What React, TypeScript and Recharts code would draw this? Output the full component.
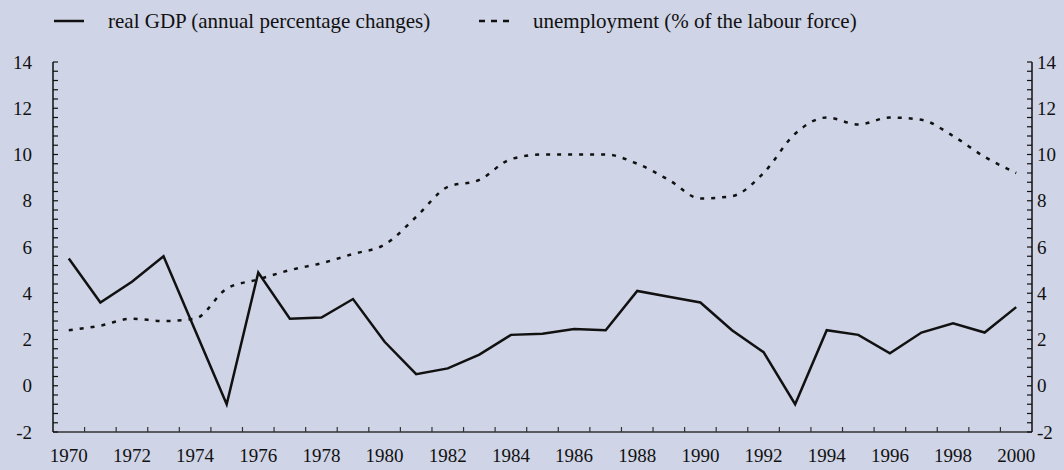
import { Line, LineChart, XAxis, YAxis } from "recharts";

// Real GDP growth vs unemployment, 1970-2000.

const years = [
  1970, 1971, 1972, 1973, 1974, 1975, 1976, 1977, 1978, 1979, 1980, 1981,
  1982, 1983, 1984, 1985, 1986, 1987, 1988, 1989, 1990, 1991, 1992, 1993,
  1994, 1995, 1996, 1997, 1998, 1999, 2000,
];

const gdp = [
  5.5, 3.6, 4.5, 5.6, 2.4, -0.8, 4.9, 2.9, 2.95, 3.75, 1.9, 0.5, 0.75, 1.35,
  2.2, 2.25, 2.45, 2.4, 4.1, 3.85, 3.6, 2.4, 1.45, -0.8, 2.4, 2.2, 1.4, 2.3,
  2.7, 2.3, 3.4,
];

const unemployment = [
  2.4, 2.6, 2.9, 2.8, 2.9, 4.2, 4.6, 5.0, 5.3, 5.7, 6.1, 7.3, 8.6, 8.9, 9.8,
  10.0, 10.0, 10.0, 9.6, 8.9, 8.1, 8.2, 9.2, 10.9, 11.6, 11.3, 11.6, 11.5,
  10.8, 9.9, 9.2,
];

const xLabels = [
  1970, 1972, 1974, 1976, 1978, 1980, 1982, 1984, 1986, 1988, 1990, 1992,
  1994, 1996, 1998, 2000,
];
const yLabels = [-2, 0, 2, 4, 6, 8, 10, 12, 14];

const gdpName = "real GDP (annual percentage changes)";
const unemploymentName = "unemployment (% of the labour force)";

const data = years.map((year, i) => ({
  year,
  gdp: gdp[i],
  unemployment: unemployment[i],
}));

const FONT = "Liberation Serif, Times New Roman, serif";
const BG = "#cfd4e6";
const INK = "#111";

// minor ticks every 0.4 on the value axes, year boundaries on the x axis
const yTicks = Array.from({ length: 41 }, (_, i) => (i * 4 - 20) / 10);
const xTicks = years.flatMap((y) => (y < 2000 ? [y, y + 0.5] : [y]));

const isYLabel = (v: number) => yLabels.some((l) => Math.abs(l - v) < 1e-6);

const labelStyle = { fontFamily: FONT, fontSize: 19 };

function XTick({ x, y, payload }: any) {
  const v = payload.value as number;
  if (!Number.isInteger(v)) {
    return <line x1={x} x2={x} y1={y} y2={y - 5} stroke="#333" strokeWidth={1.2} />;
  }
  if (!xLabels.includes(v)) return <g />;
  return (
    <text x={x} y={y + 30} textAnchor="middle" fill={INK} style={labelStyle}>
      {v}
    </text>
  );
}

function LeftTick({ x, y, payload }: any) {
  const v = payload.value as number;
  return (
    <g>
      <line x1={x} x2={x + 5} y1={y} y2={y} stroke={INK} strokeWidth={1.2} />
      {isYLabel(v) && (
        <text x={x - 21} y={y} dy="0.35em" textAnchor="end" fill={INK} style={labelStyle}>
          {Math.round(v)}
        </text>
      )}
    </g>
  );
}

function RightTick({ x, y, payload }: any) {
  const v = payload.value as number;
  return (
    <g>
      <line x1={x} x2={x - 5} y1={y} y2={y} stroke={INK} strokeWidth={1.2} />
      {isYLabel(v) && (
        <text x={x + 5} y={y} dy="0.35em" textAnchor="start" fill={INK} style={labelStyle}>
          {Math.round(v)}
        </text>
      )}
    </g>
  );
}

function LegendItem({ left, dashed, label }: { left: number; dashed?: boolean; label: string }) {
  return (
    <div style={{ position: "absolute", left, top: 7, display: "flex", alignItems: "center" }}>
      <svg width={30} height={28}>
        <line
          x1={0}
          x2={30}
          y1={14}
          y2={14}
          stroke={INK}
          strokeWidth={2.5}
          strokeDasharray={dashed ? "6 6" : undefined}
        />
      </svg>
      <span style={{ marginLeft: 24, fontSize: 21, fontFamily: FONT, color: INK, whiteSpace: "nowrap" }}>
        {label}
      </span>
    </div>
  );
}

export default function App() {
  return (
    <div style={{ position: "relative", width: 1064, height: 470, background: BG, fontFamily: FONT }}>
      <style>{"body{margin:0}"}</style>
      <LegendItem left={54} label={gdpName} />
      <LegendItem left={479} dashed label={unemploymentName} />
      <LineChart width={1064} height={470} data={data} margin={{ top: 62, right: 0, bottom: 0, left: 0 }}>
        <XAxis
          dataKey="year"
          type="number"
          domain={[1969.5, 2000.5]}
          ticks={xTicks}
          interval={0}
          tickSize={0}
          tickMargin={0}
          tick={XTick}
          height={38}
          axisLine={{ stroke: "#333", strokeWidth: 1.5 }}
        />
        <YAxis
          yAxisId="left"
          domain={[-2, 14]}
          ticks={yTicks}
          interval={0}
          tickSize={0}
          tickMargin={0}
          tick={LeftTick}
          width={53}
          axisLine={{ stroke: INK, strokeWidth: 1.5 }}
        />
        <YAxis
          yAxisId="right"
          orientation="right"
          domain={[-2, 14]}
          ticks={yTicks}
          interval={0}
          tickSize={0}
          tickMargin={0}
          tick={RightTick}
          width={32}
          axisLine={{ stroke: INK, strokeWidth: 1.5 }}
        />
        <Line
          yAxisId="left"
          type="linear"
          dataKey="gdp"
          name={gdpName}
          stroke={INK}
          strokeWidth={2.5}
          dot={false}
          isAnimationActive={false}
        />
        <Line
          yAxisId="right"
          type="monotone"
          dataKey="unemployment"
          name={unemploymentName}
          stroke={INK}
          strokeWidth={2.5}
          strokeDasharray="4 7"
          dot={false}
          isAnimationActive={false}
        />
      </LineChart>
    </div>
  );
}
